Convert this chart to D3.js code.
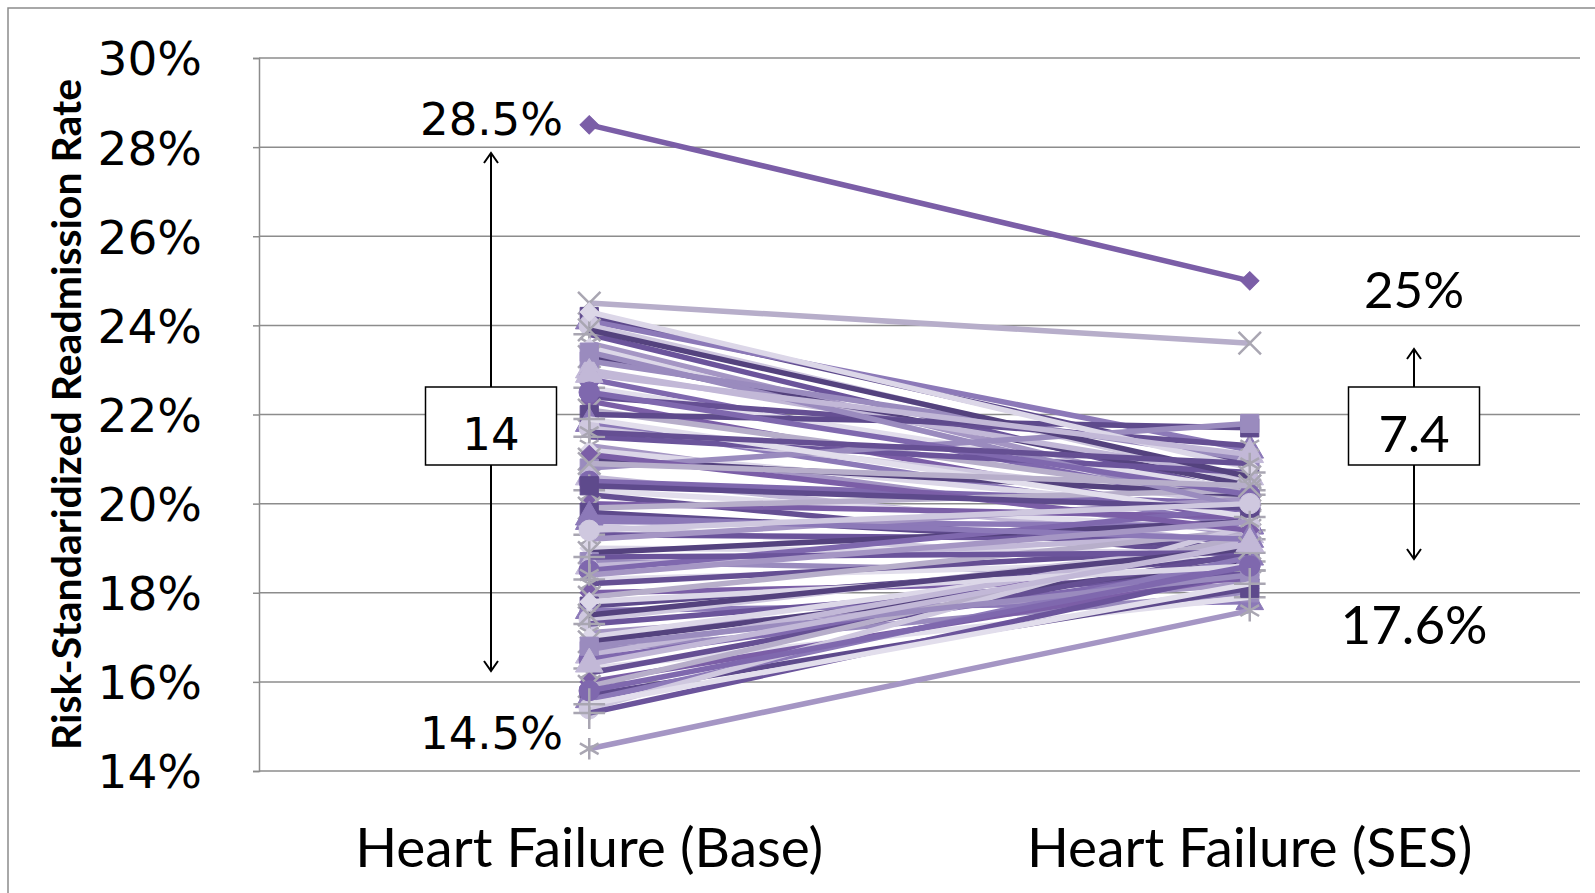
<!DOCTYPE html>
<html>
<head>
<meta charset="utf-8">
<script src="https://cdn.jsdelivr.net/npm/d3@7"></script>
<style>
  html, body { margin: 0; padding: 0; background: #fff; }
  svg { display: block; }
</style>
</head>
<body>
<div id="app"></div>
<script>
(function (d3) {

  'use strict'

  // categories on the x axis
  const categories = ['Heart Failure (Base)', 'Heart Failure (SES)']

  // one value per hospital (percent)
  const baseRates = [28.5, 24.5, 24.2, 24.1, 24.0, 23.8, 23.6, 23.5, 23.3, 23.2, 23.0, 22.8, 22.6, 22.4,
    22.3, 22.1, 22.0, 21.8, 21.7, 21.5, 21.3, 21.2, 21.0, 20.8, 20.6, 20.5, 20.3, 20.2, 20.0, 19.9,
    19.8, 19.6, 19.5, 19.3, 19.2, 19.0, 18.9, 18.7, 18.6, 18.5, 18.3, 18.2, 18.0, 17.9, 17.7, 17.6,
    17.4, 17.3, 17.1, 17.0, 16.9, 16.7, 16.6, 16.5, 16.3, 16.2, 16.0, 15.9, 15.7, 15.6, 15.4, 15.3, 14.5,
    24.3, 23.9, 23.4, 22.9, 22.5, 21.9, 21.6, 21.1, 20.9, 20.4, 19.7, 19.4, 18.8, 18.4, 17.8, 17.5,
    16.8, 16.4, 15.8, 15.5]

  const sesRates = [25.0, 23.6, 20.9, 21.2, 20.5, 20.2, 20.0, 19.8, 20.4, 21.0, 20.6, 19.9, 20.3, 21.3,
    19.6, 20.1, 21.7, 19.5, 20.0, 20.7, 19.3, 19.8, 20.2, 21.8, 19.1, 20.0, 19.4, 18.8, 19.7, 20.3,
    19.0, 19.5, 18.6, 19.2, 20.1, 18.9, 19.6, 18.4, 19.3, 19.9, 18.7, 19.0, 18.3, 19.4, 18.8, 17.8,
    19.1, 18.5, 18.2, 19.0, 18.7, 18.0, 19.2, 18.6, 17.9, 18.9, 18.4, 19.3, 18.1, 18.8, 19.5, 18.5, 17.6,
    20.8, 20.6, 19.9, 21.1, 20.2, 19.7, 20.9, 19.4, 20.4, 19.9, 19.2, 20.0, 18.9, 19.6, 18.6, 19.0,
    18.4, 19.1, 18.6, 18.2]

  const yTicks = [14, 16, 18, 20, 22, 24, 26, 28, 30]

  // spread annotations: highest, lowest and the gap in points
  const spreadHigh = [28.5, 25]
  const spreadLow = [14.5, 17.6]
  const spreadText = ['14', '7.4']

  const shades = ['#7B5EA7', '#B7AECA', '#5E4A8C', '#8C79B8', '#CFC8DF', '#6B549B', '#A596C4',
    '#DCD7E8', '#54427E', '#9A8BBE', '#C2B8D7', '#7F68AE', '#E2DEEC', '#654F93']
  const markerKinds = ['diamond', 'times', 'square', 'triangle', 'circle', 'plus', 'asterisk']

  const W = 1595
  const H = 893
  const plot = { left: 259, right: 1580, top: 58, bottom: 771 }

  const svg = d3.select('#app')
    .append('svg')
    .attr('width', W)
    .attr('height', H)

  const x = d3.scalePoint()
    .domain(categories)
    .range([plot.left, plot.right])
    .padding(0.5)

  const y = d3.scaleLinear()
    .domain([14, 30])
    .range([plot.bottom, plot.top])

  // outer chart border (cropped at right and bottom)
  svg.append('path')
    .attr('d', `M8,${H}V8H${W}`)
    .attr('fill', 'none')
    .attr('stroke', '#8c8c8c')
    .attr('stroke-width', 1.5)

  // gridlines
  svg.append('g')
    .selectAll('line')
    .data(yTicks)
    .enter()
    .append('line')
    .attr('x1', plot.left)
    .attr('x2', plot.right)
    .attr('y1', d => y(d))
    .attr('y2', d => y(d))
    .attr('stroke', '#8c8c8c')
    .attr('stroke-width', 1.5)

  // y axis
  const yAxis = svg.append('g')
    .attr('transform', `translate(${plot.left},0)`)
    .call(d3.axisLeft(y).tickValues(yTicks).tickSize(6).tickPadding(51).tickFormat(d => d + '%'))
  yAxis.select('.domain').attr('stroke', '#8c8c8c').attr('stroke-width', 1.5)
  yAxis.selectAll('.tick line').attr('stroke', '#8c8c8c').attr('stroke-width', 1.5)
  yAxis.selectAll('.tick text')
    .attr('font-family', '"DejaVu Sans", Verdana, sans-serif')
    .attr('font-size', 47)
    .attr('fill', '#000')
    .attr('dy', '0.36em')

  svg.append('text')
    .attr('transform', `translate(81,${(plot.top + plot.bottom) / 2}) rotate(-90)`)
    .attr('text-anchor', 'middle')
    .attr('font-family', 'Lato, "Open Sans", sans-serif')
    .attr('font-weight', 'bold')
    .attr('font-size', 41)
    .text('Risk-Standaridized Readmission Rate')

  // x labels
  svg.append('g')
    .selectAll('text')
    .data(categories)
    .enter()
    .append('text')
    .attr('x', d => x(d))
    .attr('y', 867)
    .attr('text-anchor', 'middle')
    .attr('font-family', 'Lato, "Open Sans", sans-serif')
    .attr('font-size', 55)
    .text(d => d)

  const hospitals = baseRates.map((b, i) => ({
    values: [b, sesRates[i]],
    color: shades[i % shades.length],
    kind: markerKinds[i % markerKinds.length]
  }))

  const line = d3.line()
    .x((d, i) => x(categories[i]))
    .y(d => y(d))

  const symbolOf = {
    diamond: d3.symbolSquare,
    square: d3.symbolSquare,
    triangle: d3.symbolTriangle,
    circle: d3.symbolCircle,
    times: d3.symbolTimes,
    asterisk: d3.symbolAsterisk,
    plus: d3.symbolPlus
  }
  const strokeOnly = { times: true, asterisk: true, plus: true }

  const series = svg.append('g')
    .selectAll('g')
    .data(hospitals)
    .enter()
    .append('g')

  series.append('path')
    .attr('d', d => line(d.values))
    .attr('fill', 'none')
    .attr('stroke', d => d.color)
    .attr('stroke-width', 5.5)

  series.selectAll('.mark')
    .data(d => d.values.map((v, i) => ({ v: v, i: i, color: d.color, kind: d.kind })))
    .enter()
    .append('path')
    .attr('class', 'mark')
    .attr('transform', d => `translate(${x(categories[d.i])},${y(d.v)})` + (d.kind === 'diamond' ? ' rotate(45)' : ''))
    .attr('d', d => d3.symbol().type(symbolOf[d.kind]).size(d.kind === 'diamond' ? 170 : 330)())
    .attr('fill', d => strokeOnly[d.kind] ? 'none' : d.color)
    .attr('stroke', d => strokeOnly[d.kind] ? '#a9a6b2' : d.color)
    .attr('stroke-width', d => strokeOnly[d.kind] ? 2.5 : 1)

  // spread annotations
  const txtFont = '"DejaVu Sans", Verdana, sans-serif'
  const lato = 'Lato, "Open Sans", sans-serif'

  svg.append('text')
    .attr('x', 563).attr('y', y(spreadHigh[0]) - 6).attr('dy', '0.36em')
    .attr('text-anchor', 'end').attr('font-family', txtFont).attr('font-size', 45)
    .text(spreadHigh[0] + '%')
  svg.append('text')
    .attr('x', 563).attr('y', y(spreadLow[0]) - 16).attr('dy', '0.36em')
    .attr('text-anchor', 'end').attr('font-family', txtFont).attr('font-size', 45)
    .text(spreadLow[0] + '%')

  const arrowHead = (cx, cy, dir) => `M${cx - 7},${cy - dir * 10}L${cx},${cy}L${cx + 7},${cy - dir * 10}`

  const boxes = [
    { cx: 491, top: 153, bottom: 671, font: txtFont, size: 45 },
    { cx: 1414, top: 349, bottom: 559, font: lato, size: 51 }
  ]
  const boxTop = 387
  const boxBottom = 465
  const boxW = 131

  boxes.forEach(function (b, i) {
    const g = svg.append('g')
    g.append('path')
      .attr('d', `M${b.cx},${boxTop}V${b.top}M${b.cx},${boxBottom}V${b.bottom}` +
        arrowHead(b.cx, b.top, -1) + arrowHead(b.cx, b.bottom, 1))
      .attr('fill', 'none')
      .attr('stroke', '#000')
      .attr('stroke-width', 2)
    g.append('rect')
      .attr('x', b.cx - boxW / 2).attr('y', boxTop)
      .attr('width', boxW).attr('height', boxBottom - boxTop)
      .attr('fill', '#fff').attr('stroke', '#000').attr('stroke-width', 1.5)
    g.append('text')
      .attr('x', b.cx).attr('y', (boxTop + boxBottom) / 2 + 8).attr('dy', '0.36em')
      .attr('text-anchor', 'middle').attr('font-family', b.font).attr('font-size', b.size)
      .text(spreadText[i])
  })

  svg.append('text')
    .attr('x', 1414).attr('y', 290).attr('dy', '0.36em')
    .attr('text-anchor', 'middle').attr('font-family', lato).attr('font-size', 51)
    .text(spreadHigh[1] + '%')
  svg.append('text')
    .attr('x', 1414).attr('y', 625).attr('dy', '0.36em')
    .attr('text-anchor', 'middle').attr('font-family', lato).attr('font-size', 53)
    .text(spreadLow[1] + '%')

}(d3))
</script>
</body>
</html>
